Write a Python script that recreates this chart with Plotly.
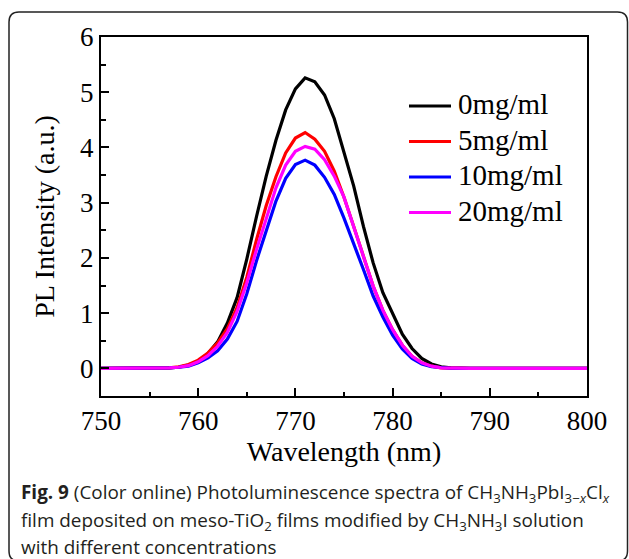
import plotly.graph_objects as go

# ---------------- data ----------------
wavelength = list(range(750, 801))

black_0 = [0, 0, 0, 0, 0, 0, 0.003, 0.01, 0.02, 0.06, 0.13, 0.27, 0.48, 0.82, 1.28, 1.98,
           2.75, 3.48, 4.13, 4.68, 5.06, 5.26, 5.19, 4.95, 4.52, 3.92, 3.30, 2.57, 1.91, 1.37,
           0.98, 0.62, 0.36, 0.18, 0.08, 0.03, 0.01] + [0] * 14
red_5 = [0, 0, 0, 0, 0, 0, 0.003, 0.01, 0.03, 0.07, 0.15, 0.28, 0.46, 0.72, 1.10, 1.65,
         2.33, 2.95, 3.47, 3.90, 4.17, 4.27, 4.15, 3.93, 3.57, 3.10, 2.57, 2.03, 1.49, 1.05,
         0.70, 0.42, 0.22, 0.10, 0.04, 0.01, 0.003] + [0] * 14
blue_10 = [0, 0, 0, 0, 0, 0, 0.002, 0.01, 0.02, 0.04, 0.10, 0.19, 0.32, 0.53, 0.85, 1.35,
           1.95, 2.50, 3.03, 3.44, 3.69, 3.77, 3.68, 3.46, 3.15, 2.72, 2.27, 1.79, 1.31, 0.93,
           0.60, 0.35, 0.18, 0.08, 0.03, 0.01, 0.002] + [0] * 14
magenta_20 = [0, 0, 0, 0, 0, 0, 0.002, 0.01, 0.02, 0.05, 0.12, 0.23, 0.40, 0.65, 1.03, 1.55,
              2.15, 2.73, 3.27, 3.68, 3.93, 4.02, 3.97, 3.78, 3.48, 3.10, 2.57, 2.03, 1.49, 1.05,
              0.70, 0.42, 0.22, 0.10, 0.04, 0.01, 0.003] + [0] * 14

series_names = ["0mg/ml", "5mg/ml", "10mg/ml", "20mg/ml"]
series_values = [black_0, red_5, blue_10, magenta_20]
series_colors = ["#000000", "#ff0000", "#0000ff", "#ff00ff"]

x_ticks = [750, 760, 770, 780, 790, 800]
y_ticks = [0, 1, 2, 3, 4, 5, 6]

caption_lines = [
    "<b>Fig. 9</b> (Color online) Photoluminescence spectra of CH<sub>3</sub>NH<sub>3</sub>PbI<sub>3−<i>x</i></sub>Cl<sub><i>x</i></sub>",
    "film deposited on meso-TiO<sub>2</sub> films modified by CH<sub>3</sub>NH<sub>3</sub>I solution",
    "with different concentrations",
]

# ---------------- layout geometry ----------------
W, H = 629, 559
L, R, T, B = 101, 42, 37, 163
PW, PH = W - L - R, H - T - B


def px(xp):
    return (xp - L) / PW


def py(yp):
    return (H - B - yp) / PH


serif = "Liberation Serif, Times New Roman, serif"

fig = go.Figure()
for name, vals, col in zip(series_names, series_values, series_colors):
    fig.add_trace(go.Scatter(x=wavelength, y=vals, mode="lines", name=name,
                             line=dict(color=col, width=3.2), showlegend=False))

# legend drawn as line samples + labels
legend_rows_y = [106, 141.5, 177, 212.5]
for name, col, yy in zip(series_names, series_colors, legend_rows_y):
    fig.add_shape(type="line", xref="paper", yref="paper",
                  x0=px(409), x1=px(451), y0=py(yy), y1=py(yy),
                  line=dict(color=col, width=3.2))
    fig.add_annotation(text=name, xref="paper", yref="paper", x=px(456), y=py(yy - 2),
                       xanchor="left", yanchor="middle", showarrow=False,
                       font=dict(family=serif, size=29, color="black"))

fig.update_layout(
    width=W, height=H,
    margin=dict(l=L, r=R, t=T, b=B, pad=0),
    paper_bgcolor="white", plot_bgcolor="white",
    font=dict(family=serif, size=27, color="black"),
    showlegend=False,
)

fig.update_xaxes(
    range=[750, 800], tickvals=x_ticks, ticktext=[str(v) for v in x_ticks],
    showline=True, linecolor="black", linewidth=2, mirror=True,
    ticks="inside", ticklen=8, tickwidth=2, tickcolor="black",
    minor=dict(ticks="inside", ticklen=4.5, tickwidth=2, tickcolor="black", dtick=5, tick0=750),
    showgrid=False, zeroline=False,
    tickfont=dict(family=serif, size=27),
    title=dict(text="Wavelength (nm)", font=dict(family=serif, size=28), standoff=1),
)
fig.update_yaxes(
    range=[-0.5, 6], tickvals=y_ticks, ticktext=[str(v) for v in y_ticks],
    showline=True, linecolor="black", linewidth=2, mirror=True,
    ticks="inside", ticklen=8, tickwidth=2, tickcolor="black",
    minor=dict(ticks="inside", ticklen=4.5, tickwidth=2, tickcolor="black", dtick=0.5, tick0=0),
    showgrid=False, zeroline=False,
    tickfont=dict(family=serif, size=27),
    title=dict(text="PL Intensity (a.u.)", font=dict(family=serif, size=28), standoff=17),
)

# rounded frame around the figure
x0, x1, y0, y1, r = 9, 627.5, 12, 561, 10
path = (f"M {px(x0 + r)},{py(y0)} L {px(x1 - r)},{py(y0)} "
        f"Q {px(x1)},{py(y0)} {px(x1)},{py(y0 + r)} "
        f"L {px(x1)},{py(y1 - r)} Q {px(x1)},{py(y1)} {px(x1 - r)},{py(y1)} "
        f"L {px(x0 + r)},{py(y1)} Q {px(x0)},{py(y1)} {px(x0)},{py(y1 - r)} "
        f"L {px(x0)},{py(y0 + r)} Q {px(x0)},{py(y0)} {px(x0 + r)},{py(y0)} Z")
fig.add_shape(type="path", path=path, xref="paper", yref="paper",
              line=dict(color="#222222", width=1.5), fillcolor="rgba(0,0,0,0)", layer="above")

caption_y = [493, 521, 547]
for txt, yy in zip(caption_lines, caption_y):
    fig.add_annotation(text=txt, xref="paper", yref="paper", x=px(19), y=py(yy),
                       xanchor="left", yanchor="middle", showarrow=False,
                       font=dict(family="Open Sans, Noto Sans, sans-serif", size=18.9, color="#231f20"))

fig.write_html("out.html")
